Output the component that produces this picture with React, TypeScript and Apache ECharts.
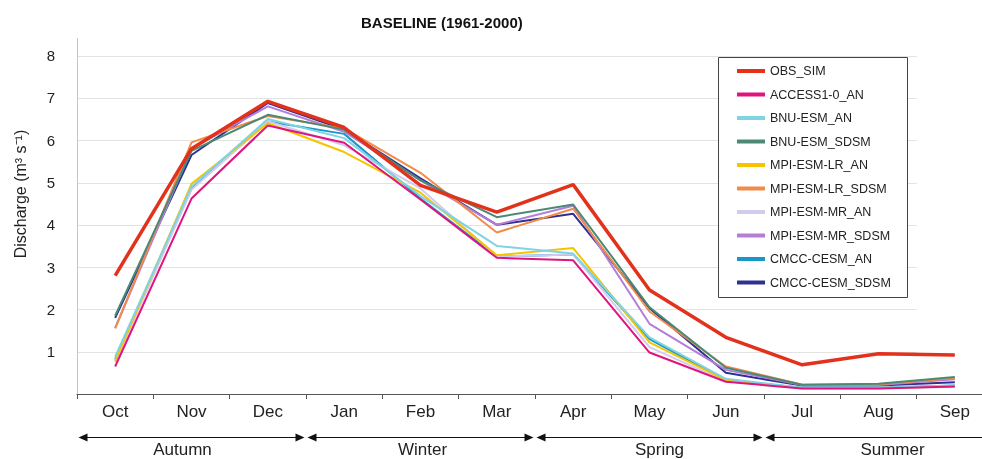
import React, { useEffect, useRef } from 'react';
import * as echarts from 'echarts';

const months = ['Oct', 'Nov', 'Dec', 'Jan', 'Feb', 'Mar', 'Apr', 'May', 'Jun', 'Jul', 'Aug', 'Sep'];

const obsSim = [2.8, 5.8, 6.92, 6.3, 4.93, 4.3, 4.95, 2.46, 1.34, 0.69, 0.95, 0.92];
const access10An = [0.65, 4.62, 6.35, 5.94, 4.6, 3.22, 3.16, 0.98, 0.29, 0.13, 0.13, 0.18];
const bnuEsmAn = [0.88, 4.9, 6.5, 6.05, 4.68, 3.5, 3.32, 1.34, 0.36, 0.15, 0.15, 0.2];
const bnuEsmSdsm = [1.85, 5.75, 6.6, 6.25, 5.05, 4.18, 4.48, 2.05, 0.62, 0.22, 0.24, 0.4];
const mpiLrAn = [0.78, 4.97, 6.4, 5.72, 4.76, 3.28, 3.45, 1.22, 0.33, 0.14, 0.14, 0.18];
const mpiLrSdsm = [1.55, 5.95, 6.57, 6.28, 5.23, 3.82, 4.38, 1.95, 0.65, 0.22, 0.23, 0.37];
const mpiMrAn = [0.75, 4.83, 6.45, 5.88, 4.86, 3.25, 3.3, 1.11, 0.3, 0.13, 0.13, 0.17];
const mpiMrSdsm = [1.56, 5.8, 6.8, 6.2, 5.05, 4.0, 4.45, 1.66, 0.57, 0.21, 0.21, 0.35];
const cmccAn = [0.82, 4.85, 6.44, 6.15, 4.62, 3.25, 3.3, 1.3, 0.33, 0.15, 0.15, 0.2];
const cmccSdsm = [1.8, 5.65, 6.88, 6.25, 5.1, 4.0, 4.26, 2.03, 0.5, 0.2, 0.2, 0.28];

const seriesNames = [
  'OBS_SIM', 'ACCESS1-0_AN', 'BNU-ESM_AN', 'BNU-ESM_SDSM', 'MPI-ESM-LR_AN',
  'MPI-ESM-LR_SDSM', 'MPI-ESM-MR_AN', 'MPI-ESM-MR_SDSM', 'CMCC-CESM_AN', 'CMCC-CESM_SDSM',
];
const seriesData = [obsSim, access10An, bnuEsmAn, bnuEsmSdsm, mpiLrAn, mpiLrSdsm, mpiMrAn, mpiMrSdsm, cmccAn, cmccSdsm];
const seriesColors = ['#e2321c', '#e0147f', '#80d4e2', '#4a8a74', '#f5c400', '#f28a4a', '#d2cbee', '#b27fd8', '#1a96c8', '#2e3192'];

const yTicks = [1, 2, 3, 4, 5, 6, 7, 8];
const seasons = ['Autumn', 'Winter', 'Spring', 'Summer'];
const seasonStart = [0, 3, 6, 9];
const seasonEnd = [2, 5, 8, 11];
const seasonLabelShift = [-9, 2, 10, 14];

const FONT = '"Liberation Sans", Arial, Helvetica, sans-serif';

export default function App() {
  const ref = useRef<HTMLDivElement>(null);
  useEffect(() => {
    document.body.style.overflow = 'hidden';
    const chart = echarts.init(ref.current as HTMLDivElement, null, { renderer: 'svg' });
    const gridLeft = 77;
    const gridTop = 38.7;
    const gridHeight = 355.3;
    const gridWidth = 916;

    const series: any[] = [];
    // draw OBS last so it sits on top
    for (let i = seriesNames.length - 1; i >= 0; i--) {
      series.push({
        name: seriesNames[i],
        type: 'line',
        data: seriesData[i],
        symbol: 'none',
        smooth: false,
        color: seriesColors[i],
        lineStyle: { width: i === 0 ? 3.5 : 2, color: seriesColors[i] },
        z: i === 0 ? 5 : 3,
      });
    }

    chart.setOption({
      animation: false,
      title: {
        text: 'BASELINE (1961-2000)',
        left: 356,
        top: 10,
        textStyle: { fontFamily: FONT, fontSize: 15, fontWeight: 'bold', color: '#111' },
      },
      legend: {
        data: seriesNames,
        orient: 'vertical',
        left: 737,
        top: 64,
        padding: 0,
        icon: 'rect',
        itemWidth: 28,
        itemHeight: 4,
        itemGap: 9.5,
        textStyle: { fontFamily: FONT, fontSize: 12.5, color: '#222', lineHeight: 14 },
        z: 10,
      },
      grid: { left: gridLeft, top: gridTop, width: gridWidth, height: gridHeight, containLabel: false },
      xAxis: {
        type: 'category',
        data: months,
        boundaryGap: true,
        axisLine: { lineStyle: { color: '#555', width: 1 } },
        axisTick: { show: true, length: 5, lineStyle: { color: '#555' } },
        axisLabel: { fontFamily: FONT, fontSize: 17, color: '#222', margin: 9 },
        splitLine: { show: false },
      },
      yAxis: {
        type: 'value',
        min: 0,
        max: 8.4,
        interval: 1,
        axisLine: { show: true, lineStyle: { color: '#c4c4c4' } },
        axisTick: { show: false },
        splitLine: { show: false },
        axisLabel: {
          fontFamily: FONT,
          fontSize: 15,
          color: '#222',
          margin: 22,
          formatter: (v: number) => (Number.isInteger(v) && v >= 1 ? String(v) : ''),
        },
      },
      series,
    });

    const xPix = (i: number) => chart.convertToPixel({ xAxisIndex: 0 }, i) as number;
    const yPix = (v: number) => chart.convertToPixel({ yAxisIndex: 0 }, v) as number;
    const band = xPix(1) - xPix(0);
    const gridEnd = xPix(11) - band / 2;

    const graphics: any[] = [];
    yTicks.forEach((t) => {
      const y = Math.round(yPix(t)) + 0.5;
      graphics.push({
        type: 'line',
        z: 1,
        shape: { x1: gridLeft + 1, y1: y, x2: gridEnd, y2: y },
        style: { stroke: '#e3e3e3', lineWidth: 1 },
      });
    });

    // legend box
    graphics.push({
      type: 'rect',
      z: 8,
      shape: { x: 718.5, y: 57.5, width: 189, height: 240 },
      style: { fill: '#fff', stroke: '#444', lineWidth: 1 },
    });

    // y axis name
    graphics.push({
      type: 'text',
      z: 8,
      x: 20,
      y: 194,
      rotation: Math.PI / 2,
      style: {
        text: 'Discharge (m³ s⁻¹)',
        fontFamily: FONT,
        fontSize: 16,
        fill: '#222',
        textAlign: 'center',
        textVerticalAlign: 'middle',
      },
    });

    // season arrows
    const ay = 437.5;
    seasons.forEach((s, k) => {
      const L = xPix(seasonStart[k]) - band / 2 + 1.5;
      const R = xPix(seasonEnd[k]) + band / 2 - 1.5;
      graphics.push({
        type: 'line',
        z: 8,
        shape: { x1: L + 4, y1: ay, x2: R - 4, y2: ay },
        style: { stroke: '#111', lineWidth: 1 },
      });
      graphics.push({
        type: 'polygon',
        z: 8,
        shape: { points: [[L, ay], [L + 9, ay - 4], [L + 9, ay + 4]] },
        style: { fill: '#111' },
      });
      graphics.push({
        type: 'polygon',
        z: 8,
        shape: { points: [[R, ay], [R - 9, ay - 4], [R - 9, ay + 4]] },
        style: { fill: '#111' },
      });
      graphics.push({
        type: 'text',
        z: 8,
        x: (xPix(seasonStart[k]) + xPix(seasonEnd[k])) / 2 + seasonLabelShift[k],
        y: 449,
        style: {
          text: s,
          fontFamily: FONT,
          fontSize: 17,
          fill: '#222',
          textAlign: 'center',
          textVerticalAlign: 'middle',
        },
      });
    });

    chart.setOption({ graphic: graphics });

    return () => chart.dispose();
  }, []);
  return <div ref={ref} style={{ position: 'fixed', left: 0, top: 0, width: 1000, height: 459 }} />;
}
